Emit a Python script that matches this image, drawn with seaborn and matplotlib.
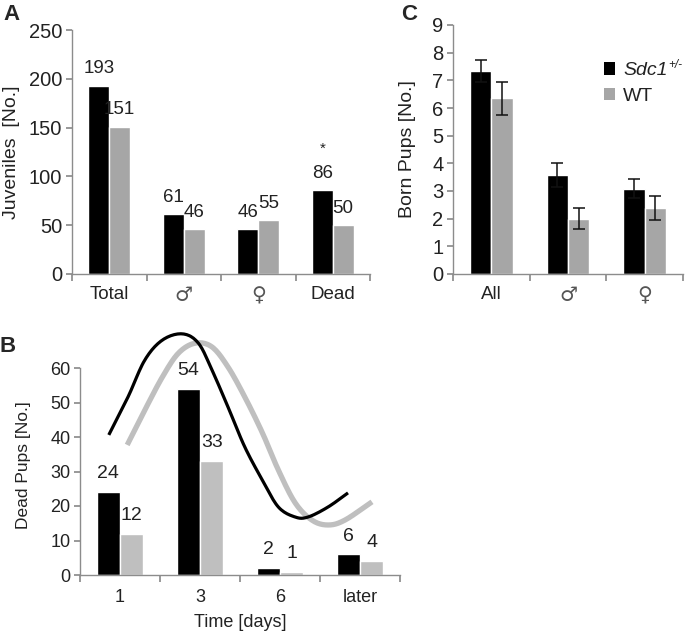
import numpy as np
import pandas as pd
import matplotlib
matplotlib.use("Agg")
import matplotlib.pyplot as plt
import seaborn as sns
from matplotlib.patches import Patch

sns.set_theme(style="white")
plt.rcParams['font.family'] = ['Liberation Sans', 'DejaVu Sans']

# ---------------- data ----------------
groups = ["Sdc1+/-", "WT"]

a_categories = ["Total", "\u2642", "\u2640", "Dead"]
a_sdc1 = [193, 61, 46, 86]
a_wt = [151, 46, 55, 50]

b_categories = ["1", "3", "6", "later"]
b_sdc1 = [24, 54, 2, 6]
b_wt = [12, 33, 1, 4]

# hand-drawn trend curves in category / value units
b_curve_sdc1_x = [-0.14, 0.10, 0.31, 0.53, 0.78, 0.98, 1.15, 1.35, 1.56, 1.78, 1.98, 2.19, 2.35, 2.60, 2.85]
b_curve_sdc1_y = [40.6, 51.6, 62.3, 68.1, 69.9, 67.2, 59.4, 48.7, 37.1, 27.5, 19.7, 16.8, 16.8, 19.7, 23.8]
b_curve_wt_x = [0.09, 0.31, 0.53, 0.73, 0.94, 1.15, 1.35, 1.56, 1.78, 1.98, 2.19, 2.40, 2.60, 2.81, 3.15]
b_curve_wt_y = [37.7, 47.8, 57.4, 64.3, 67.2, 66.1, 60.3, 51.6, 41.2, 30.4, 20.9, 15.9, 14.5, 15.9, 21.2]

c_categories = ["All", "\u2642", "\u2640"]
c_sdc1 = [7.35, 3.57, 3.08]
c_wt = [6.35, 2.00, 2.38]
c_sdc1_err = [0.40, 0.43, 0.35]
c_wt_err = [0.60, 0.37, 0.43]

BLACK = "#000000"
GRAY_A = "#a6a6a6"
GRAY_B = "#bfbfbf"
SPINE = "#8c8c8c"
TXT = "#222222"
SYMBOLS = {"\u2642", "\u2640"}


def long_df(cats, s, w):
    return pd.DataFrame({
        "cat": cats + cats,
        "val": list(s) + list(w),
        "grp": [groups[0]] * len(cats) + [groups[1]] * len(cats),
    })


def smooth(xs, ys, k=12):
    """Catmull-Rom rendering of a hand-drawn curve through its read points."""
    p = np.column_stack([xs, ys]).astype(float)
    p = np.vstack([2 * p[0] - p[1], p, 2 * p[-1] - p[-2]])
    out = []
    t = np.linspace(0, 1, k, endpoint=False)[:, None]
    for i in range(1, len(p) - 2):
        p0, p1, p2, p3 = p[i - 1], p[i], p[i + 1], p[i + 2]
        seg = 0.5 * ((2 * p1) + (-p0 + p2) * t + (2 * p0 - 5 * p1 + 4 * p2 - p3) * t ** 2
                     + (-p0 + 3 * p1 - 3 * p2 + p3) * t ** 3)
        out.append(seg)
    out.append(p[-2][None, :])
    out = np.vstack(out)
    return out[:, 0], out[:, 1]


def style_axes(ax, cats, ymax, ystep, tick_fs, cat_fs, cat_pad):
    n = len(cats)
    for s in ["top", "right"]:
        ax.spines[s].set_visible(False)
    for s in ["left", "bottom"]:
        ax.spines[s].set_color(SPINE)
        ax.spines[s].set_linewidth(1.0)
    ax.set_xlim(-0.5, n - 0.5)
    ax.set_ylim(0, ymax)
    ax.set_yticks(np.arange(0, ymax + ystep / 2, ystep))
    ax.set_xticks(np.arange(-0.5, n, 1.0))
    ax.set_xticklabels([""] * (n + 1))
    ax.set_xticks(np.arange(n), minor=True)
    ax.set_xticklabels(cats, minor=True)
    ax.tick_params(axis="x", which="major", direction="out", length=5, color=SPINE, bottom=True)
    ax.tick_params(axis="x", which="minor", length=0, pad=cat_pad, labelsize=cat_fs,
                   labelcolor=TXT, bottom=True)
    ax.tick_params(axis="y", direction="out", length=4, color=SPINE, left=True, labelsize=tick_fs,
                   labelcolor=TXT, pad=3)
    for lab in ax.get_xticklabels(minor=True):
        if lab.get_text() in SYMBOLS:
            lab.set_fontsize(cat_fs * 1.08)
            lab.set_fontfamily(["DejaVu Sans"])
            lab.set_color("#555555")
    ax.set_xlabel("")
    ax.grid(False)


fig = plt.figure(figsize=(6.85, 6.33), dpi=100)

# ---------------- Panel A ----------------
axA = fig.add_axes([72 / 685, 1 - 274 / 633, 298 / 685, 244 / 633])
dfA = long_df(a_categories, a_sdc1, a_wt)
sns.barplot(data=dfA, x="cat", y="val", hue="grp", palette=[BLACK, GRAY_A], width=0.56,
            ax=axA, legend=False, saturation=1, errorbar=None)
for cont in axA.containers:
    axA.bar_label(cont, fmt="%d", padding=6, fontsize=13.5, color=TXT)
style_axes(axA, a_categories, 250, 50, 14.5, 13.5, 9)
axA.set_ylabel("Juveniles  [No.]", fontsize=14, color=TXT)
axA.yaxis.set_label_coords(-0.175, 0.5)
dead_bar = axA.containers[0].patches[3]
axA.annotate("*", xy=(dead_bar.get_x() + dead_bar.get_width() / 2, a_sdc1[3]),
             xytext=(0, 25), textcoords="offset points", ha="center", va="bottom",
             fontsize=11, color=TXT)

# ---------------- Panel C ----------------
axC = fig.add_axes([453 / 685, 1 - 274 / 633, 230 / 685, 249 / 633])
dfC = long_df(c_categories, c_sdc1, c_wt)
sns.barplot(data=dfC, x="cat", y="val", hue="grp", palette=[BLACK, GRAY_A], width=0.56,
            ax=axC, legend=False, saturation=1, errorbar=None)
for cont, errs in zip(axC.containers, [c_sdc1_err, c_wt_err]):
    xs = [p.get_x() + p.get_width() / 2 for p in cont.patches]
    ys = [p.get_height() for p in cont.patches]
    axC.errorbar(xs, ys, yerr=errs, fmt="none", ecolor="#111111", elinewidth=1.1,
                 capsize=4, capthick=1.1, zorder=5)
style_axes(axC, c_categories, 9, 1, 14.5, 13.5, 9)
axC.set_ylabel("Born Pups [No.]", fontsize=14, color=TXT)
axC.yaxis.set_label_coords(-0.16, 0.5)
handles = [Patch(facecolor=BLACK, edgecolor="none"), Patch(facecolor=GRAY_A, edgecolor="none")]
leg = axC.legend(handles, ["Sdc1", "WT"], loc="upper left",
                 bbox_to_anchor=(0.655, 0.85), frameon=False, fontsize=14, handlelength=0.6,
                 handleheight=0.6, handletextpad=0.4, labelspacing=0.45, labelcolor=TXT,
                 borderaxespad=0, borderpad=0)
leg.get_texts()[0].set_fontstyle("italic")

# ---------------- Panel B ----------------
axB = fig.add_axes([80 / 685, 1 - 575 / 633, 320 / 685, 207 / 633])
dfB = long_df(b_categories, b_sdc1, b_wt)
sns.barplot(data=dfB, x="cat", y="val", hue="grp", palette=[BLACK, GRAY_B], width=0.58,
            ax=axB, legend=False, saturation=1, errorbar=None)
for cont in axB.containers:
    axB.bar_label(cont, fmt="%d", padding=7, fontsize=14, color=TXT)
sx, sy = smooth(b_curve_wt_x, b_curve_wt_y)
axB.plot(sx, sy, color=GRAY_B, linewidth=3.8, clip_on=False, solid_capstyle="butt", zorder=4)
sx, sy = smooth(b_curve_sdc1_x, b_curve_sdc1_y)
axB.plot(sx, sy, color=BLACK, linewidth=2.3, clip_on=False, solid_capstyle="butt", zorder=5)
style_axes(axB, b_categories, 60, 10, 13, 13, 10)
axB.set_ylabel("Dead Pups [No.]", fontsize=12.5, color=TXT)
axB.yaxis.set_label_coords(-0.153, 0.53)
axB.set_xlabel("Time [days]", fontsize=13, color=TXT, labelpad=6)

# panel letters
fig.text(11 / 685, 1 - 15 / 633, "A", fontsize=16, fontweight="bold", ha="center", va="center")
fig.text(409 / 685, 1 - 15 / 633, "C", fontsize=16, fontweight="bold", ha="center", va="center")
fig.text(8 / 685, 1 - 346 / 633, "B", fontsize=16, fontweight="bold", ha="center", va="center")

# superscript for the legend genotype
fig.canvas.draw()
r = fig.canvas.get_renderer()
bb = leg.get_texts()[0].get_window_extent(r)
fig.text(bb.x1 / fig.bbox.width + 1 / 685, (bb.y1 - 3) / fig.bbox.height, "+/-",
         fontsize=8.5, fontstyle="italic", color=TXT, ha="left", va="center")

fig.savefig("out.png", dpi=100)
